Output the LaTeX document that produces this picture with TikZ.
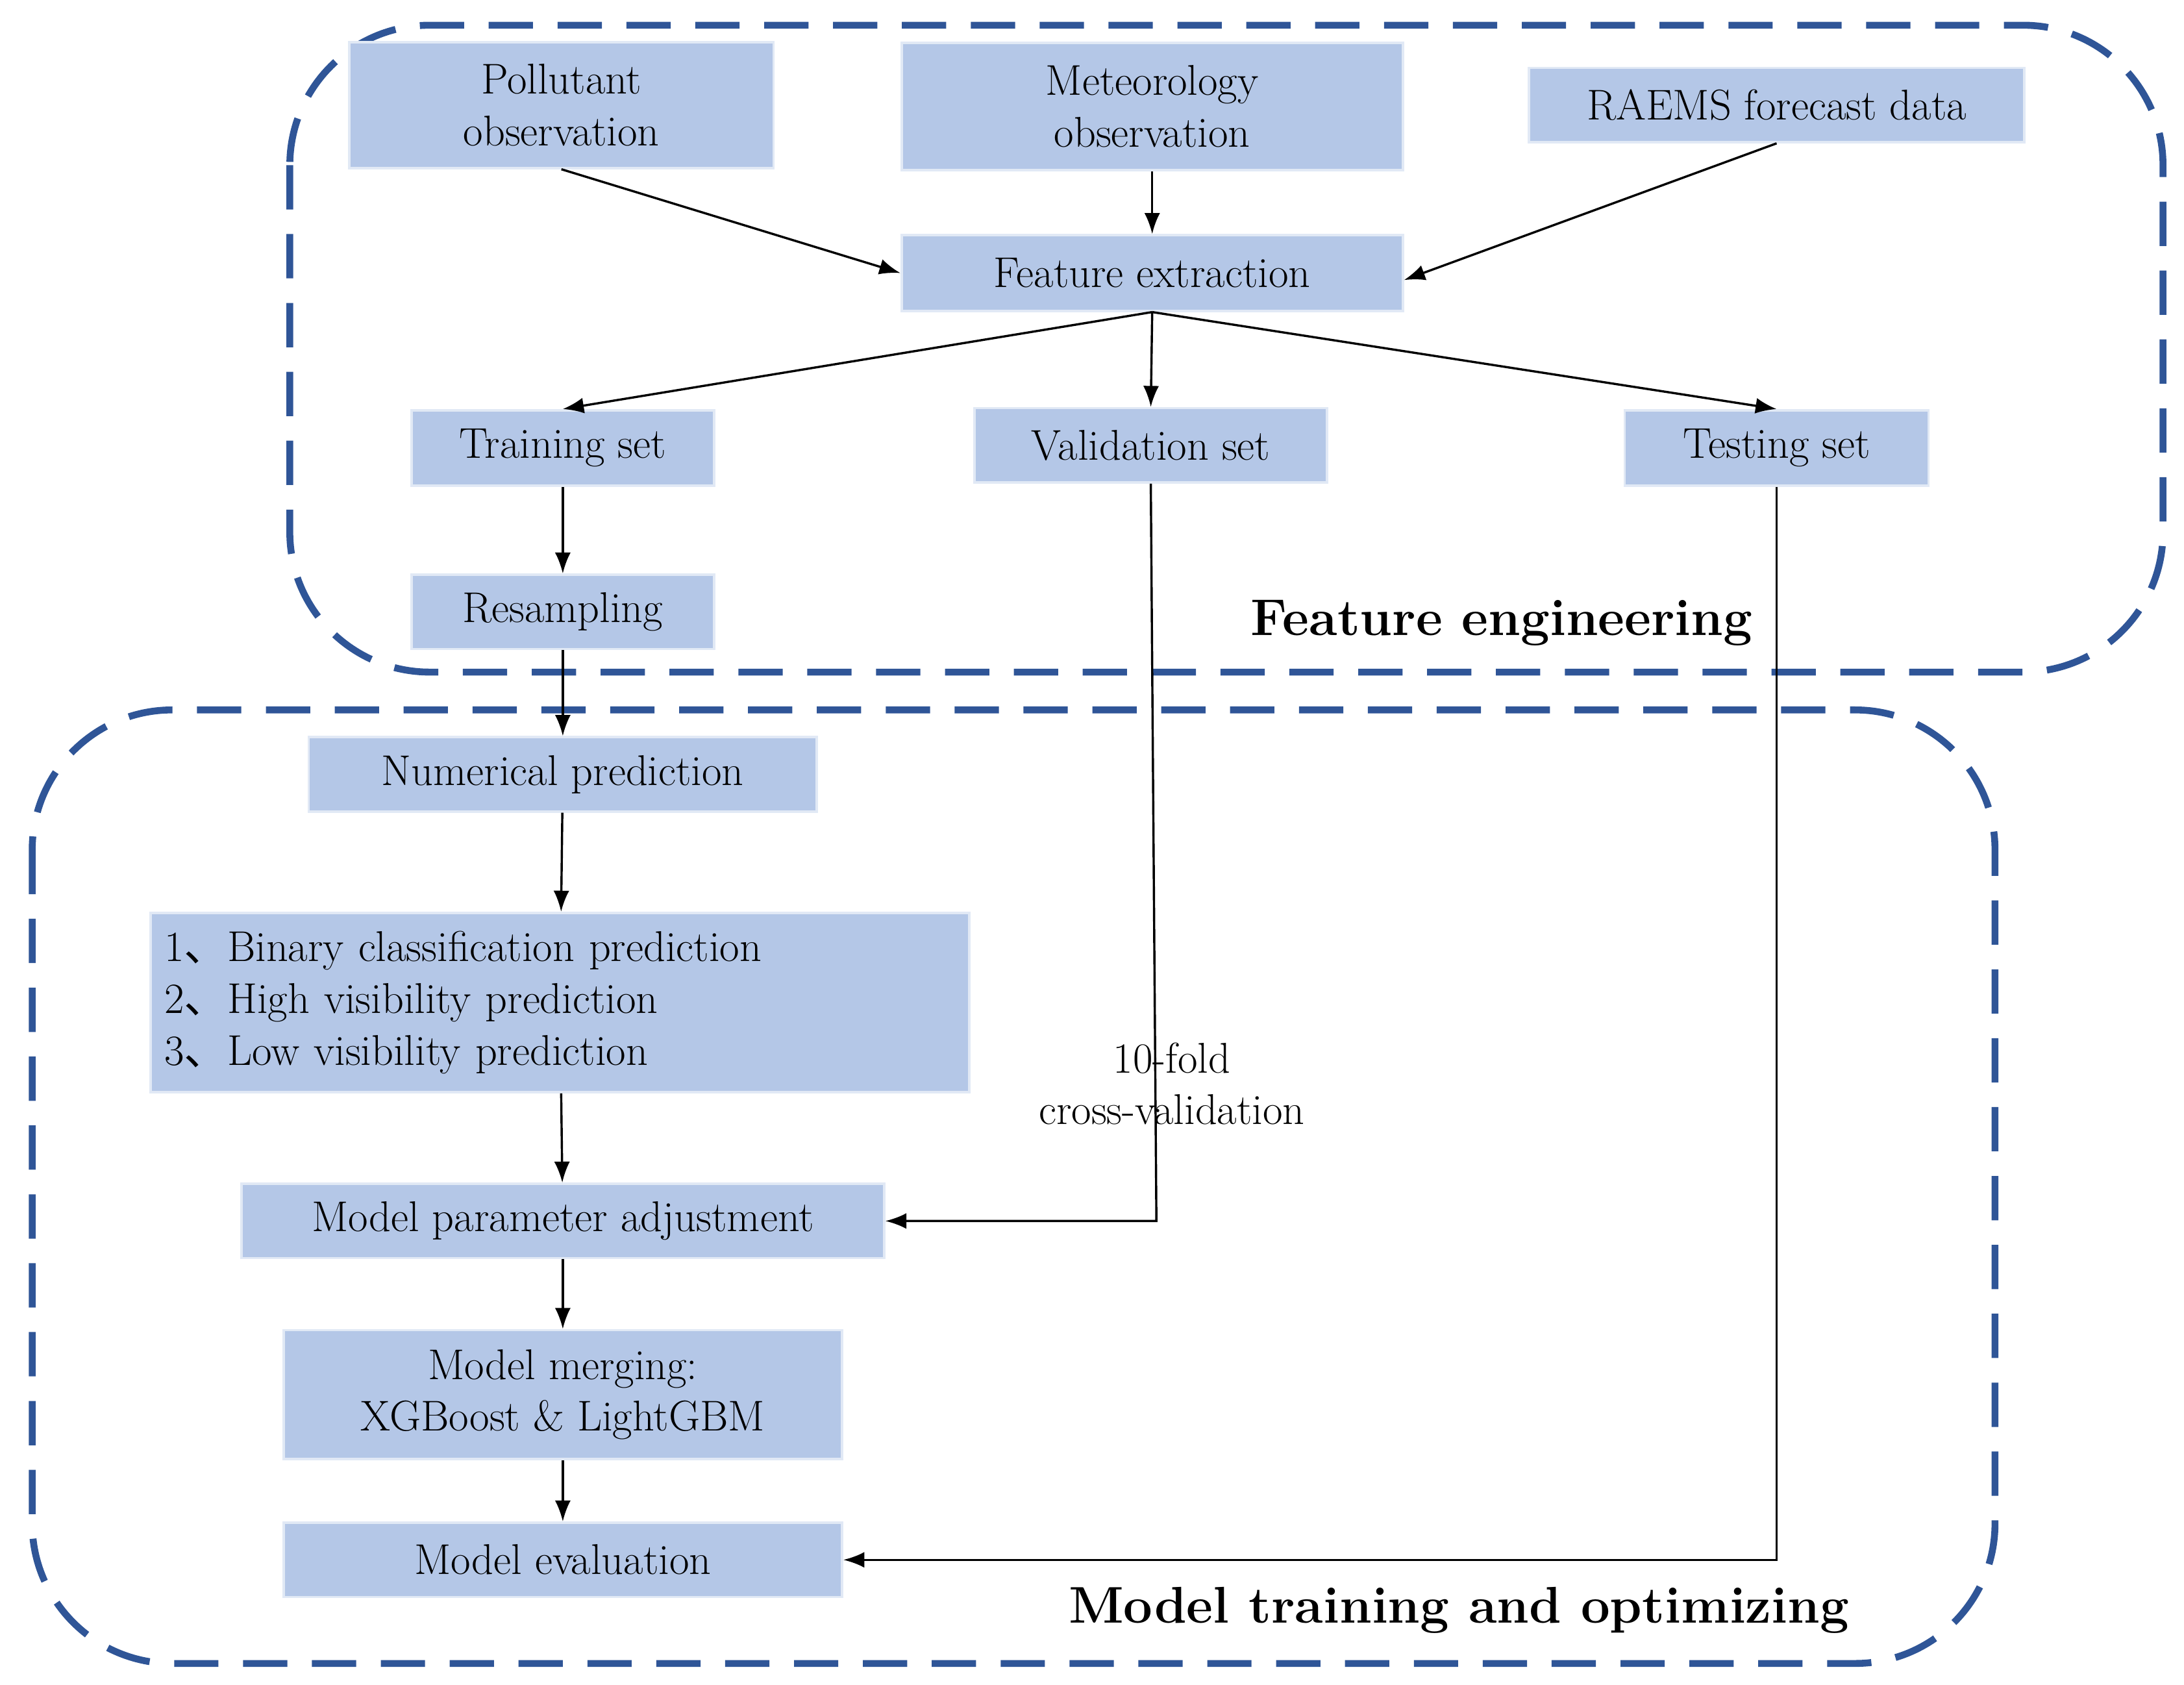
\documentclass[tikz,border=0pt]{standalone}
\usepackage{tikz}
\usetikzlibrary{arrows.meta}
\usepackage{fontspec}
\newfontfamily\cjk{Noto Sans CJK SC}
\definecolor{boxblue}{HTML}{B4C7E7}
\definecolor{frameblue}{HTML}{2F5597}
\newcommand{\dun}{{\cjk 、}}
\tikzset{
  box/.style={fill=boxblue, draw=boxblue!40!white, line width=1pt, inner sep=0pt, align=center,
    font=\fontsize{17.5}{21}\selectfont},
  link/.style={-{Latex[length=3mm]}, line width=0.9pt},
  frame/.style={draw=frameblue, line width=2.8pt, dash pattern=on 18pt off 10pt, rounded corners=2cm},
  title/.style={font=\fontsize{21}{25}\selectfont\bfseries, anchor=east}
}
\begin{document}
\begin{tikzpicture}[x=0.02cm,y=-0.02cm]
\useasboundingbox (0,0) rectangle (1560,1203);
% frames
\draw[frame] (207,18) rectangle (1545,480);
\draw[frame] (23,507) rectangle (1425,1188);
\node[title] (fe) at (1258,445) {Feature engineering};
\node[title] (mt) at (1327,1150) {Model training and optimizing};
% data sources
\node[box, minimum width=303*0.02cm, minimum height=90*0.02cm] (poll) at (401,75) {Pollutant\\observation};
\node[box, minimum width=358*0.02cm, minimum height=91*0.02cm] (met) at (823,76) {Meteorology\\observation};
\node[box, minimum width=354*0.02cm, minimum height=53*0.02cm] (raems) at (1269,75) {RAEMS forecast data};
\node[box, minimum width=358*0.02cm, minimum height=54*0.02cm] (feat) at (823,195) {Feature extraction};
% data sets
\node[box, minimum width=216*0.02cm, minimum height=54*0.02cm] (train) at (402,320) {Training set};
\node[box, minimum width=252*0.02cm, minimum height=53*0.02cm] (valid) at (822,318) {Validation set};
\node[box, minimum width=217*0.02cm, minimum height=54*0.02cm] (test) at (1269,320) {Testing set};
\node[box, minimum width=216*0.02cm, minimum height=53*0.02cm] (resamp) at (402,437) {Resampling};
% model
\node[box, minimum width=363*0.02cm, minimum height=53*0.02cm] (num) at (402,553) {Numerical prediction};
\node[box, minimum width=585*0.02cm, minimum height=128*0.02cm, align=left, text width=565*0.02cm] (pred) at (400,716)
  {1\dun Binary classification prediction\\2\dun High visibility prediction\\3\dun Low visibility prediction};
\node[box, minimum width=459*0.02cm, minimum height=53*0.02cm] (param) at (402,872) {Model parameter adjustment};
\node[box, minimum width=399*0.02cm, minimum height=92*0.02cm] (merge) at (402,996) {Model merging:\\XGBoost \& LightGBM};
\node[box, minimum width=399*0.02cm, minimum height=53*0.02cm] (eval) at (402,1114) {Model evaluation};
\node[font=\fontsize{17.5}{21}\selectfont, align=center] (cv) at (837,774) {10-fold\\cross-validation};
\coordinate (vcorner) at (826,872);
\coordinate (tcorner) at (1269,1114);
% connectors
\draw[link] (poll.south) -- (feat.west);
\draw[link] (met.south) -- (feat.north);
\draw[link] (raems.south) -- ([yshift=-0.1cm]feat.east);
\draw[link] (feat.south) -- (train.north);
\draw[link] (feat.south) -- (valid.north);
\draw[link] (feat.south) -- (test.north);
\draw[link] (train) -- (resamp);
\draw[link] (resamp) -- (num);
\draw[link] (num) -- (pred);
\draw[link] (pred) -- (param);
\draw[link] (param) -- (merge);
\draw[link] (merge) -- (eval);
\draw[link] (valid.south) -- (vcorner) -- (param.east);
\draw[link] (test.south) -- (tcorner) -- (eval.east);
\end{tikzpicture}
\end{document}
